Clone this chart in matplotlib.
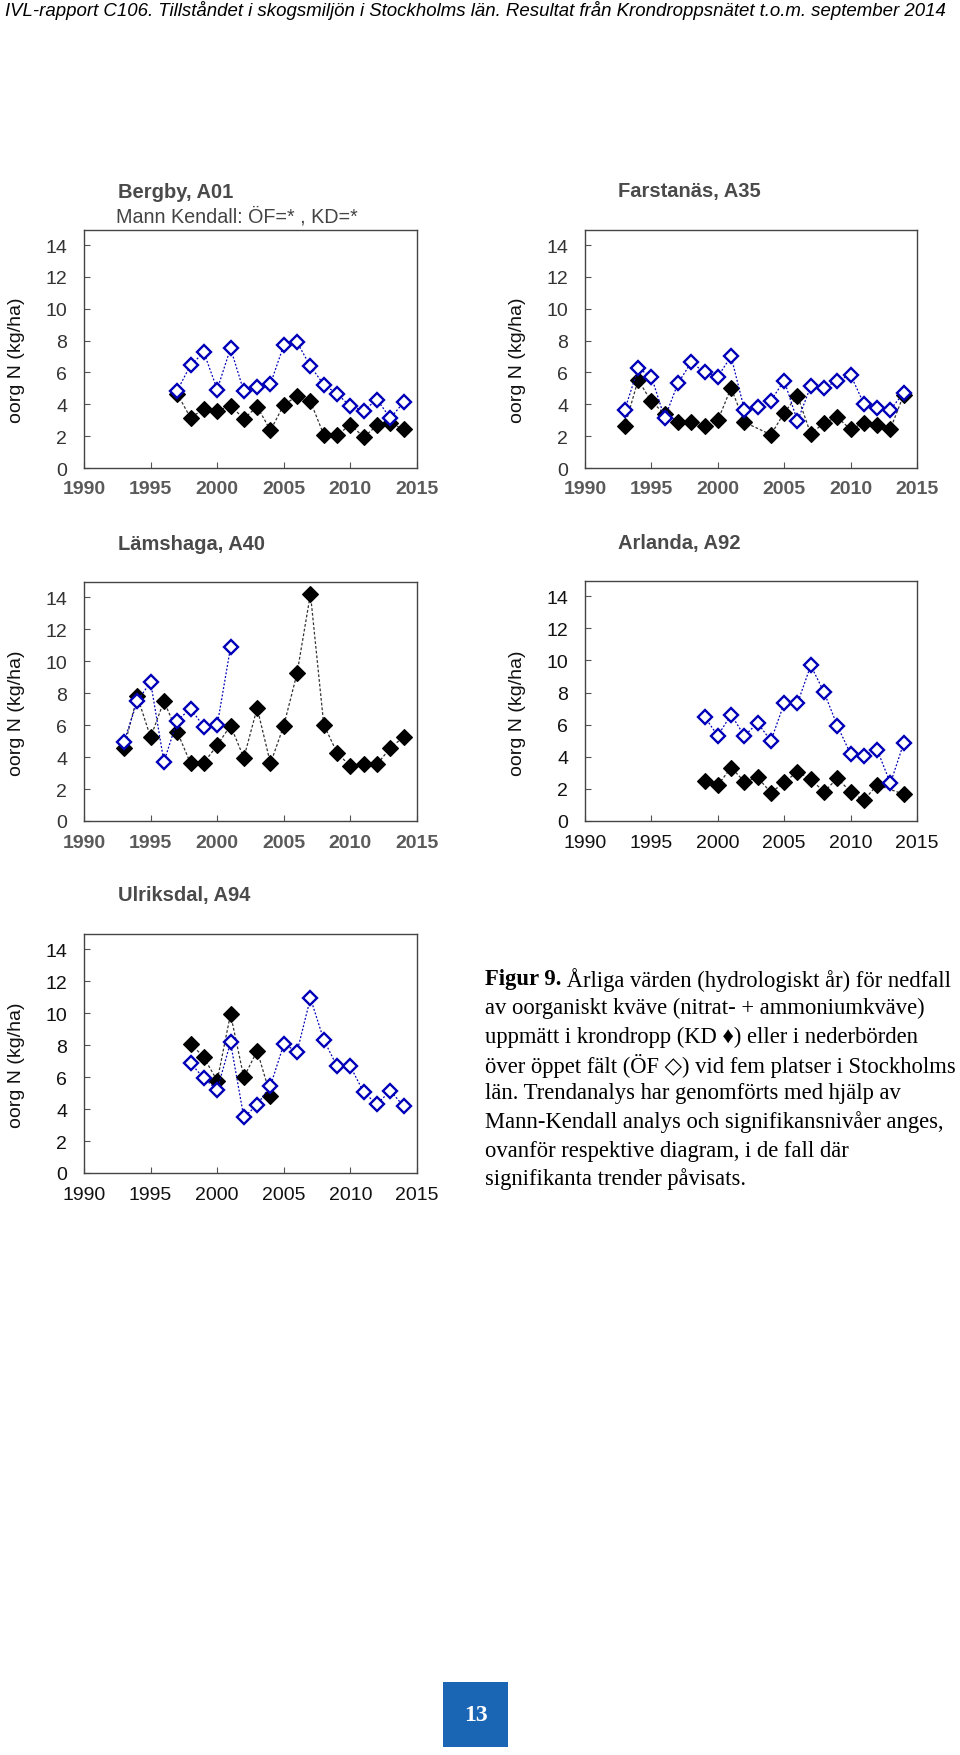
import matplotlib
matplotlib.use("Agg")
import matplotlib.pyplot as plt
from matplotlib import font_manager
from matplotlib.patches import Rectangle

# ---------------- data ----------------
bergby_of_years = list(range(1997, 2015))
bergby_of = [4.86, 6.47, 7.26, 4.93, 7.52, 4.82, 5.07, 5.28, 7.72, 7.89, 6.39, 5.24, 4.66, 3.88, 3.61, 4.30, 3.13, 4.13]
bergby_kd_years = list(range(1997, 2015))
bergby_kd = [4.66, 3.15, 3.72, 3.57, 3.92, 3.09, 3.86, 2.36, 3.97, 4.51, 4.18, 2.09, 2.05, 2.73, 1.94, 2.67, 2.82, 2.42]

farst_of_years = list(range(1993, 2015))
farst_of = [3.67, 6.26, 5.74, 3.13, 5.32, 6.64, 6.01, 5.74, 7.01, 3.67, 3.82, 4.24, 5.49, 2.94, 5.14, 5.03, 5.49, 5.85, 4.03, 3.76, 3.67, 4.72]
farst_kd_years = list(range(1993, 2003)) + list(range(2004, 2015))
farst_kd = [2.63, 5.53, 4.18, 3.40, 2.92, 2.92, 2.63, 2.99, 5.03, 2.88, 2.09, 3.47, 4.55, 2.13, 2.84, 3.19, 2.42, 2.84, 2.67, 2.46, 4.60]

lams_of_years = list(range(1993, 2002))
lams_of = [4.95, 7.49, 8.70, 3.70, 6.28, 7.03, 5.89, 5.99, 10.86]
lams_kd_years = list(range(1993, 2015))
lams_kd = [4.58, 7.80, 5.24, 7.49, 5.58, 3.60, 3.64, 4.74, 5.97, 3.95, 7.07, 3.60, 5.97, 9.26, 14.2, 6.03, 4.26, 3.43, 3.54, 3.54, 4.58, 5.26]

arl_of_years = list(range(1999, 2015))
arl_of = [6.50, 5.31, 6.63, 5.31, 6.10, 5.00, 7.33, 7.33, 9.69, 8.02, 5.94, 4.17, 4.06, 4.44, 2.35, 4.85]
arl_kd_years = list(range(1999, 2013)) + [2014]
arl_kd = [2.50, 2.23, 3.33, 2.46, 2.71, 1.77, 2.40, 3.08, 2.60, 1.81, 2.67, 1.81, 1.29, 2.25, 1.67]

ulr_of_years = list(range(1998, 2015))
ulr_of = [6.88, 5.92, 5.21, 8.17, 3.48, 4.27, 5.46, 8.06, 7.60, 10.94, 8.33, 6.67, 6.67, 5.04, 4.31, 5.15, 4.17]
ulr_kd_years = list(range(1998, 2005))
ulr_kd = [8.10, 7.23, 5.77, 9.94, 5.98, 7.65, 4.83]

titles = ["Bergby, A01", "Farstanäs, A35", "Lämshaga, A40", "Arlanda, A92", "Ulriksdal, A94"]
subtitle = "Mann Kendall: ÖF=* , KD=*"
ylabel = "oorg N (kg/ha)"
xticks = [1990, 1995, 2000, 2005, 2010, 2015]
yticks = [0, 2, 4, 6, 8, 10, 12, 14]

header = ("IVL-rapport C106. Tillståndet i skogsmiljön i Stockholms län. "
          "Resultat från Krondroppsnätet t.o.m. september 2014")
caption_bold = "Figur 9."
caption_lines = [
    " Årliga värden (hydrologiskt år) för nedfall",
    "av oorganiskt kväve (nitrat- + ammoniumkväve)",
    "uppmätt i krondropp (KD \u2666) eller i nederbörden",
    "över öppet fält (ÖF \u25c7) vid fem platser i Stockholms",
    "län. Trendanalys har genomförts med hjälp av",
    "Mann-Kendall analys och signifikansnivåer anges,",
    "ovanför respektive diagram, i de fall där",
    "signifikanta trender påvisats.",
]
page_number = "13"

# ---------------- figure ----------------
W, H = 960, 1756
fig = plt.figure(figsize=(W / 100, H / 100), dpi=100)
fig.patch.set_facecolor("white")
plt.rcParams["font.family"] = ["Liberation Sans", "DejaVu Sans"]

BLUE = "#0000B8"


def px_axes(x0, y0, x1, y1):
    return fig.add_axes([x0 / W, 1 - y1 / H, (x1 - x0) / W, (y1 - y0) / H])


# (of years, of, kd years, kd, box, scanned-look flag)
panels = [
    (bergby_of_years, bergby_of, bergby_kd_years, bergby_kd, (84, 231, 417, 469), True),
    (farst_of_years, farst_of, farst_kd_years, farst_kd, (585, 231, 917, 469), True),
    (lams_of_years, lams_of, lams_kd_years, lams_kd, (84, 583, 417, 822), True),
    (arl_of_years, arl_of, arl_kd_years, arl_kd, (585, 582, 917, 822), False),
    (ulr_of_years, ulr_of, ulr_kd_years, ulr_kd, (84, 935, 417, 1174), False),
]

for i, (oy, ov, ky, kv, box, scanned) in enumerate(panels):
    ax = px_axes(*box)
    ax.plot(ky, kv, linestyle=(0, (2.2, 1.6)), color="#333333", lw=0.9,
            marker="D", ms=8.2, mfc="black", mec="black", mew=0.8, zorder=3)
    ax.plot(oy, ov, linestyle=(0, (1.5, 1.5)), color=BLUE, lw=0.9,
            marker="D", ms=7.4, mfc="white", mec=BLUE, mew=1.7, zorder=4)
    ax.set_xlim(1990, 2015)
    ax.set_ylim(0, 14.95)
    ax.set_xticks(xticks)
    ax.set_yticks(yticks)
    ax.tick_params(direction="in", length=4, width=0.8, labelsize=14,
                   colors="#555555", labelcolor="#111111")
    ax.tick_params(axis="y", pad=12)
    ax.tick_params(axis="x", pad=9)
    if scanned:
        for lab in ax.get_xticklabels():
            lab.set_fontweight("bold")
            lab.set_color("#5a5a5a")
        for lab in ax.get_yticklabels():
            lab.set_color("#333333")
    for s in ax.spines.values():
        s.set_color("#444444")
        s.set_linewidth(1.0)
    ax.set_ylabel(ylabel, fontsize=14, color="#111111")
    ax.yaxis.set_label_coords(-0.178, 0.455)

# titles
title_pos = [(118, 192), (618, 192), (118, 544), (618, 544), (118, 896)]
for t, (x, y) in zip(titles, title_pos):
    fig.text(x / W, 1 - y / H, t, fontsize=14.5, fontweight="bold",
             color="#4a4a4a", ha="left", va="center")
fig.text(116 / W, 1 - 217 / H, subtitle, fontsize=14.2, color="#444444",
         ha="left", va="center")

# ---------------- header ----------------
renderer = fig.canvas.get_renderer()


def has_font(name):
    try:
        font_manager.findfont(font_manager.FontProperties(family=name),
                              fallback_to_default=False)
        return True
    except Exception:
        return False


hfam = "Liberation Sans Narrow" if has_font("Liberation Sans Narrow") else "Liberation Sans"
ht = fig.text(5 / W, 1 - 11 / H, header, fontsize=13, style="italic",
              family=[hfam, "DejaVu Sans"], ha="left", va="center", color="black")
wpx = ht.get_window_extent(renderer).width
ht.set_fontsize(13 * 940 / wpx)

# ---------------- caption ----------------
cfam = ["Liberation Serif", "DejaVu Serif"]
x0 = 485
line_y = [980, 1008, 1037, 1066, 1094, 1122, 1151, 1179]
fs = 15.5
tb = fig.text(x0 / W, 1 - line_y[0] / H, caption_bold, fontsize=fs,
              fontweight="bold", family=cfam, ha="left", va="center")
tr = fig.text(0, 1 - line_y[0] / H, caption_lines[0], fontsize=fs,
              family=cfam, ha="left", va="center")
# fit first line width to ~467 px
wb = tb.get_window_extent(renderer).width
wr = tr.get_window_extent(renderer).width
scale = 467 / (wb + wr)
fs = fs * scale
tb.set_fontsize(fs)
tr.set_fontsize(fs)
wb = tb.get_window_extent(renderer).width
tr.set_x((x0 + wb) / W)
for line, y in zip(caption_lines[1:], line_y[1:]):
    fig.text(x0 / W, 1 - y / H, line, fontsize=fs, family=cfam,
             ha="left", va="center")

# ---------------- page number ----------------
fig.patches.append(Rectangle((443 / W, 1 - 1748 / H), 65 / W, 65 / H,
                             transform=fig.transFigure, facecolor="#1a66b5",
                             edgecolor="none"))
fig.text(475.5 / W, 1 - 1716 / H, page_number, fontsize=17, fontweight="bold",
         family=cfam, color="white", ha="center", va="center")

fig.savefig("out.png", dpi=100, facecolor="white")
